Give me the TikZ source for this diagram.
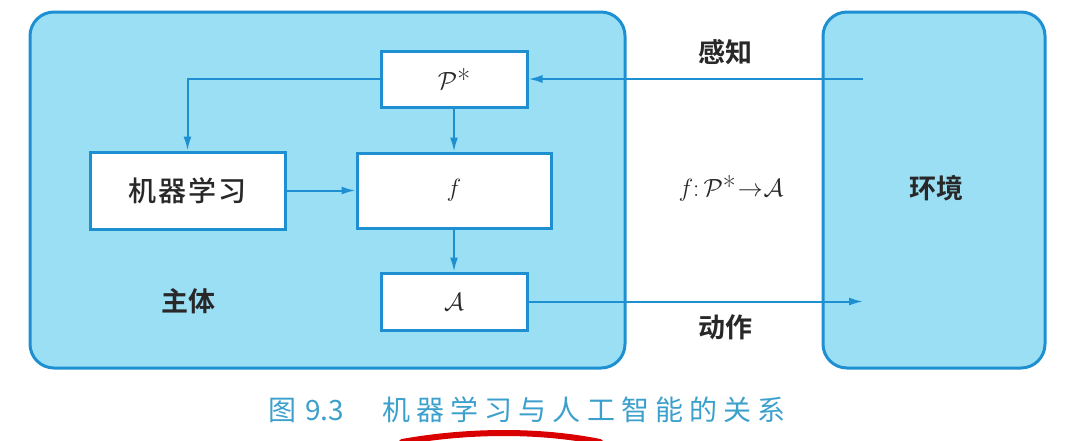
\documentclass[tikz,border=0pt]{standalone}
\usepackage{fontspec}
\newfontfamily\cjk{Noto Sans CJK SC Medium}
\newfontfamily\cjkm{Noto Sans CJK SC Bold}
\newfontfamily\cjkcap[LetterSpace=22]{Noto Sans CJK SC}
\newfontfamily\cjkcapn{Noto Sans CJK SC}
\usetikzlibrary{arrows.meta}
\definecolor{fillblue}{RGB}{155,223,244}
\definecolor{lineblue}{RGB}{30,144,210}
\definecolor{capblue}{RGB}{60,160,205}
\definecolor{txt}{RGB}{40,40,40}
\begin{document}
\begin{tikzpicture}[x=1pt,y=-1pt,
  outer/.style={draw=lineblue,fill=fillblue,line width=3pt,rounded corners=24pt},
  wbox/.style={draw=lineblue,fill=white,line width=3pt,inner sep=0pt,text=txt,font=\fontsize{28}{32}\selectfont},
  conn/.style={draw=lineblue,line width=2pt,-{Latex[length=14pt,width=8pt]}},
  lab/.style={text=txt,font=\cjkm\fontsize{27}{32}\selectfont}]
\useasboundingbox (0,0) rectangle (1067,440);
\clip (0,0) rectangle (1067,440);
\fill[white] (0,0) rectangle (1067,440);
\path[outer] (30,12) rectangle (625,368);
\path[outer] (823,12) rectangle (1045,368);
\node[wbox,minimum width=195pt,minimum height=77pt] (ml) at (187.5,190.5) {\cjk\addfontfeatures{LetterSpace=8} 机器学习};
\node[wbox,minimum width=146pt,minimum height=56pt] (p) at (454,79) {$\mathcal{P}$*};
\node[wbox,minimum width=194pt,minimum height=75pt] (f) at (454,190.5) {$f$};
\node[wbox,minimum width=146pt,minimum height=57pt] (a) at (454,301.5) {$\mathcal{A}$};
\coordinate (envin) at (863,79);
\coordinate (envout) at (863,301.5);
\draw[conn] (envin) -- (p.east);
\draw[conn] (p.west) -| (ml.north);
\draw[conn] (p.south) -- (f.north);
\draw[conn] (ml.east) -- (f.west);
\draw[conn] (f.south) -- (a.north);
\draw[conn] (a.east) -- (envout);
\node[lab] (gz) at (725,52) {感知};
\node[lab] (dz) at (725,327) {动作};
\node[text=txt,font=\fontsize{28}{32}\selectfont] (map) at (731,188) {$f\colon\mathcal{P}$*\kern2pt$\to$\kern1pt$\mathcal{A}$};
\node[lab] (env) at (936,188) {环境};
\node[lab] (zt) at (188,301) {主体};
\node[text=capblue,font=\cjkcapn\fontsize{28}{32}\selectfont,anchor=west,inner sep=0pt] (cap) at (268,410) {图\hspace{9pt}9.3\hspace{38pt}{\cjkcap 机器学习与人工智能的关系}};
\draw[red!85!black,line width=6pt,line cap=round] (402,442) .. controls (470,430) and (540,430) .. (600,442);
\end{tikzpicture}
\end{document}
